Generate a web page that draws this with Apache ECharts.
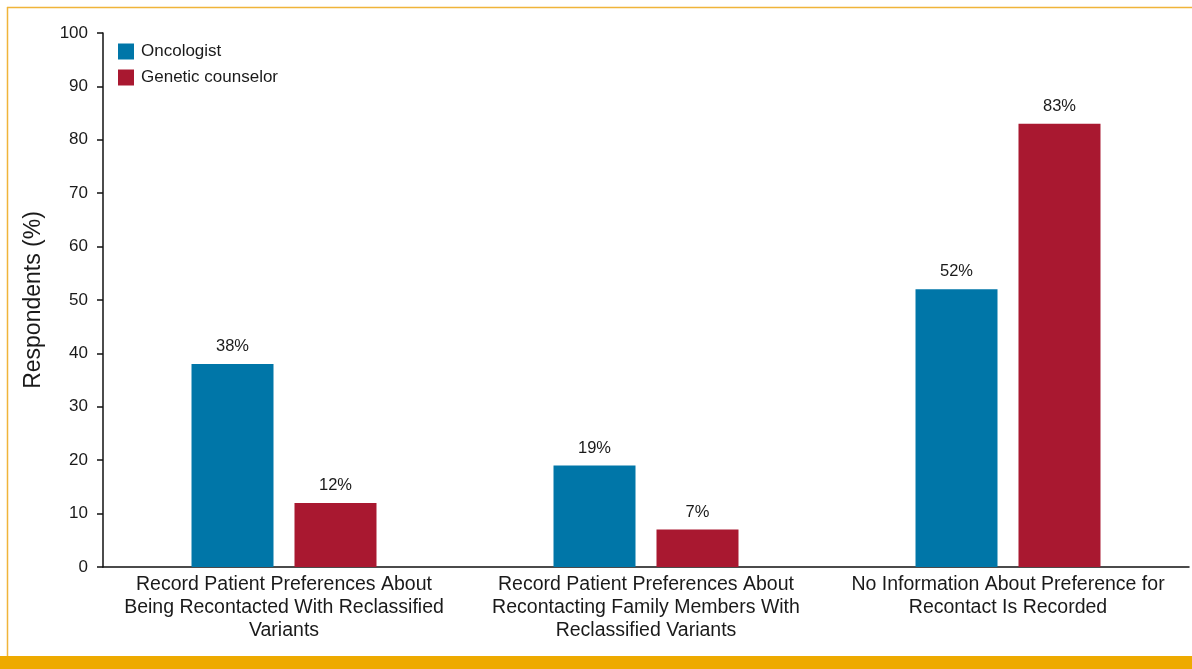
<!DOCTYPE html>
<html>
<head>
<meta charset="utf-8">
<script src="https://cdn.jsdelivr.net/npm/echarts@6/dist/echarts.min.js"></script>
<style>
  html, body { margin: 0; padding: 0; background: #fff; }
  #chart { width: 1192px; height: 669px; }
</style>
</head>
<body>
<div id="chart"></div>
<script>
// Survey categories (x axis)
const categories = [
  'Record Patient Preferences About\nBeing Recontacted With Reclassified\nVariants',
  'Record Patient Preferences About\nRecontacting Family Members With\nReclassified Variants',
  'No Information About Preference for\nRecontact Is Recorded'
];
// Percent of respondents per group
const oncologist = [38, 19, 52];
const geneticCounselor = [12, 7, 83];
const seriesNames = ['Oncologist', 'Genetic counselor'];

const FONT = '"Liberation Sans", Arial, sans-serif';
const chart = echarts.init(document.getElementById('chart'));

const labelStyle = {
  show: true,
  position: 'top',
  distance: 9,
  formatter: p => p.value + '%',
  color: '#1a1a1a',
  fontFamily: FONT,
  fontSize: 16.5
};

chart.setOption({
  animation: false,
  backgroundColor: '#ffffff',
  textStyle: { fontFamily: FONT },
  grid: { left: 103, right: 3, top: 33, bottom: 102, containLabel: false },
  legend: {
    left: 113,
    top: 38,
    orient: 'vertical',
    itemWidth: 16,
    itemHeight: 16,
    itemGap: 9,
    icon: 'rect',
    textStyle: { fontFamily: FONT, fontSize: 17, color: '#1a1a1a', padding: [0, 0, 0, 2] },
    data: seriesNames
  },
  xAxis: {
    type: 'category',
    data: categories,
    axisLine: { lineStyle: { color: '#111', width: 1.5 } },
    axisTick: { show: false },
    axisLabel: {
      interval: 0,
      margin: 6,
      color: '#1a1a1a',
      fontFamily: FONT,
      fontSize: 19.5,
      lineHeight: 23
    }
  },
  yAxis: {
    type: 'value',
    min: 0,
    max: 100,
    interval: 10,
    name: 'Respondents (%)',
    nameLocation: 'middle',
    nameGap: 58,
    nameRotate: 90,
    nameTextStyle: { fontFamily: FONT, fontSize: 23, color: '#1a1a1a' },
    axisLine: { show: true, lineStyle: { color: '#111', width: 1.5 } },
    axisTick: { show: true, length: 6, lineStyle: { color: '#111', width: 1.5 } },
    axisLabel: { margin: 15, color: '#1a1a1a', fontFamily: FONT, fontSize: 17 },
    splitLine: { show: false }
  },
  series: [
    {
      name: seriesNames[0],
      type: 'bar',
      data: oncologist,
      barWidth: 82,
      barGap: '25.6%',
      itemStyle: { color: '#0076A8' },
      label: labelStyle
    },
    {
      name: seriesNames[1],
      type: 'bar',
      data: geneticCounselor,
      barWidth: 82,
      itemStyle: { color: '#A91830' },
      label: labelStyle
    }
  ],
  graphic: [
    // thin frame lines along the top and left edges
    { type: 'line', shape: { x1: 7, y1: 7.5, x2: 1192, y2: 7.5 }, style: { stroke: '#F0B43A', lineWidth: 1.5 }, silent: true },
    { type: 'line', shape: { x1: 7.5, y1: 7, x2: 7.5, y2: 656 }, style: { stroke: '#F0B43A', lineWidth: 1.5 }, silent: true },
    // footer band
    { type: 'rect', shape: { x: 0, y: 656, width: 1192, height: 13 }, style: { fill: '#EEAA00' }, silent: true }
  ]
});
</script>
</body>
</html>
